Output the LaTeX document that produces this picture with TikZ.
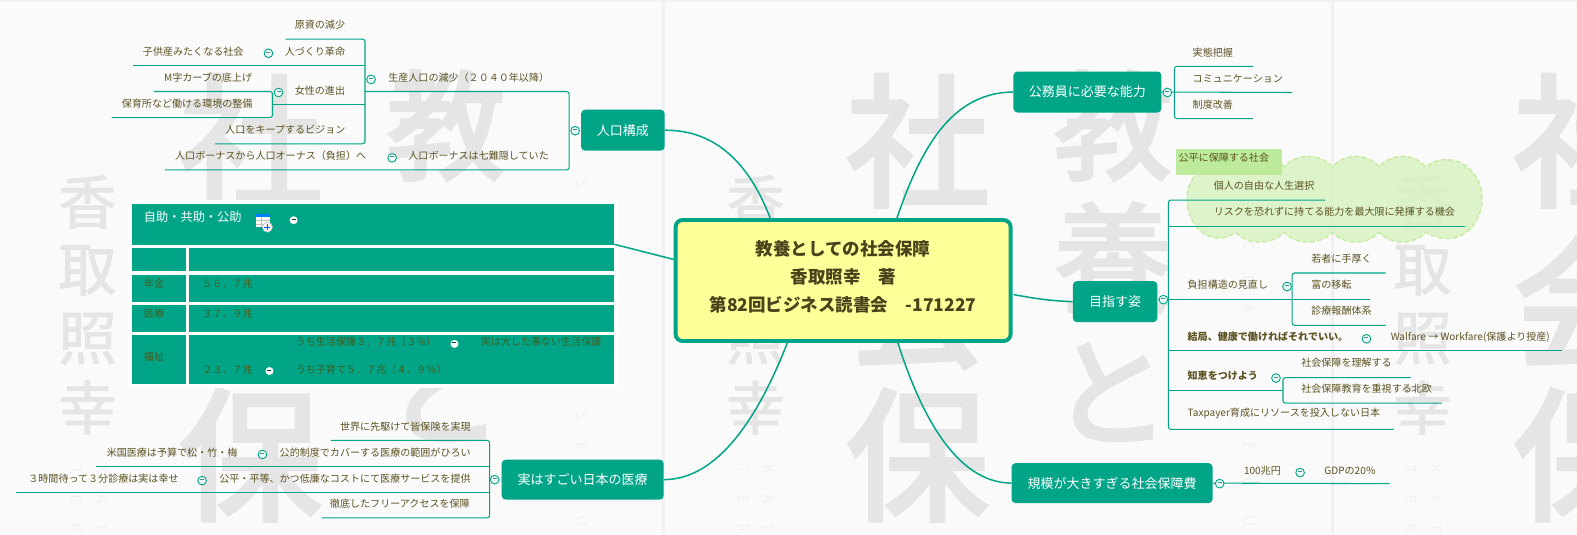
\documentclass[tikz,border=0pt]{standalone}
\usepackage{fontspec}
\setmainfont{Noto Sans CJK JP}
\newfontfamily\wmf{Noto Sans CJK JP Medium}
\newfontfamily\wmg[FakeBold=1.2]{Noto Sans CJK JP Medium}
\usetikzlibrary{calc}
\definecolor{teal}{HTML}{00A587}
\definecolor{ink}{HTML}{5C5222}
\definecolor{rowink}{HTML}{3F5E22}
\definecolor{wm}{HTML}{E5E5E5}
\definecolor{wmlt}{HTML}{F2F2F2}
\definecolor{pagebg}{HTML}{FAFAFA}
\definecolor{mainfill}{HTML}{FFFF99}
\definecolor{cloudfill}{HTML}{D8F2C2}
\definecolor{clouddraw}{HTML}{C3EB9B}
\definecolor{framefill}{HTML}{BDEB9B}
\newcommand{\fz}[1]{\fontsize{#1}{#1}\selectfont}
\tikzset{
  x=1.0055pt,y=-1.0055pt,
  lbl/.style={anchor=west,inner sep=0pt,text=ink,font=\fz{10.05}},
  rowt/.style={anchor=west,inner sep=0pt,text=rowink,font=\fz{10.05}},
  br/.style={draw=teal,line width=1.05pt,rounded corners=2.5pt},
  topic/.style={draw=none,fill=teal,rounded corners=4pt,text=white,font=\fz{13},inner sep=0pt,anchor=center},
  main/.style={draw=teal,line width=3.9pt,fill=mainfill,rounded corners=7pt,inner sep=0pt,anchor=center},
  link/.style={draw=teal,line width=1.5pt},
  col/.style={circle,draw=teal,line width=0.9pt,fill=white!92!teal,minimum size=8.7pt,inner sep=0pt,text=teal!50!gray},
  wcol/.style={circle,fill=white,minimum size=8pt,inner sep=0pt,text=teal!40!black},
  cell/.style={fill=teal,draw=none},
  wmk/.style={text=wm,inner sep=0pt,anchor=center,font=\wmf\fz{#1}},
  wmb/.style={text=wm,inner sep=0pt,anchor=center,font=\wmg\fz{#1}},
  wml/.style={text=wmlt,inner sep=0pt,anchor=center,rotate=-90,font=\fz{15}},
}
\newcommand{\mn}{\rule[2.2pt]{4pt}{0.8pt}}
\newcommand{\wmset}[1]{%
  \begin{scope}[shift={(#1,0)}]
    \node[wmb=145] at (249,140) {社};
    \node[wmb=145] at (249,301) {会};
    \node[wmb=145] at (249,452.5) {保};
    \node[wmb=120] at (443.5,125) {教};
    \node[wmb=120] at (443.5,256.5) {養};
    \node[wmb=120] at (441.5,390) {と};
    \node[wmk=59] at (88,201) {香};
    \node[wmk=59] at (88,269.5) {取};
    \node[wmk=59] at (88,338) {照};
    \node[wmk=59] at (88,406) {幸};
    \node[wml] at (101,467) {K};
    \node[wml] at (101,496) {A};
    \node[wml] at (101,525) {T};
    \node[wml] at (76.5,467) {T};
    \node[wml] at (76.5,496) {E};
    \node[wml] at (76.5,525) {R};
    \node[wml] at (579,183) {S};
    \node[wml] at (579,214) {O};
    \node[wml] at (579,245) {C};
    \node[wml] at (579,276) {I};
    \node[wml] at (579,307) {A};
    \node[wml] at (579,338) {L};
    \node[wml] at (579,414) {S};
    \node[wml] at (579,444) {E};
    \node[wml] at (579,480) {C};
    \node[wml] at (579,518) {U};
  \end{scope}}
\begin{document}
\begin{tikzpicture}
\useasboundingbox (0,0) rectangle (1568.4,531.1);
\fill[pagebg] (0,0) rectangle (1568.4,531.1);
\fill[white!95!black] (0,0) rectangle (1568.4,1.5);
\begin{scope}
\clip (0,0) rectangle (1568.4,531.1);
\wmset{0}\wmset{663.4}\wmset{1327}
\end{scope}
\draw[white!94!black,line width=3pt] (660,0)--(660,531.1) (1325,0)--(1325,531.1);

% table
\fill[white] (127,199) rectangle (615,386);
\node[cell,minimum width=482.6pt,minimum height=41pt,inner sep=0pt] (row0) at (371,223) {};
\node[cell,minimum width=54.3pt,minimum height=23pt,inner sep=0pt] (c1a) at (158,258.5) {};
\node[cell,minimum width=425.3pt,minimum height=23pt,inner sep=0pt] (c1b) at (399.5,258.5) {};
\node[cell,minimum width=54.3pt,minimum height=27pt,inner sep=0pt] (c2a) at (158,286.5) {};
\node[cell,minimum width=425.3pt,minimum height=27pt,inner sep=0pt] (c2b) at (399.5,286.5) {};
\node[cell,minimum width=54.3pt,minimum height=27pt,inner sep=0pt] (c3a) at (158,316.5) {};
\node[cell,minimum width=425.3pt,minimum height=27pt,inner sep=0pt] (c3b) at (399.5,316.5) {};
\node[cell,minimum width=54.3pt,minimum height=49pt,inner sep=0pt] (c4a) at (158,357.5) {};
\node[cell,minimum width=425.3pt,minimum height=49pt,inner sep=0pt] (c4b) at (399.5,357.5) {};
\node[anchor=west,inner sep=0pt,text=white,font=\fz{12.2}] (tt) at (143,216) {自助・共助・公助};
% icon
\fill[white] (255,213) rectangle (269,226);
\fill[blue!50!cyan] (255,213) rectangle (269,216);
\draw[black!25,line width=0.4pt] (255,219)--(269,219) (255,222.5)--(269,222.5) (260,216)--(260,226);
\draw[black!30,fill=white,line width=0.5pt] (266,226) circle (5);
\draw[blue!70!cyan,line width=1pt] (263,226)--(269,226) (266,223)--(266,229);
\node[wcol] (tc) at (292,219) {\mn};
\node[rowt] (n1) at (143,282) {年金};
\node[rowt] (n2) at (143,312) {医療};
\node[rowt] (n3) at (143,355) {福祉};
\node[rowt] (v1) at (201,282) {５６．７兆};
\node[rowt] (v2) at (201,312) {３７．９兆};
\node[rowt] (v3) at (201,368) {２３．７兆};
\node[wcol] (c3x) at (268,369) {\mn};
\node[rowt] (v3b) at (294,368) {うち子育て５．７兆（４．９％）};
\node[rowt] (v4) at (294,340) {うち生活保護３．７兆（３％）};
\node[wcol] (c4x) at (452,342) {\mn};
\node[rowt] (v5) at (478,340) {実は大した事ない生活保護};

% central
\node[main,minimum width=335pt,minimum height=121pt] (center) at (838.5,279) {};
\node[align=center,inner sep=0pt,font=\fz{17.5}\bfseries,text=ink!80!black] (centertext) at (838.5,275.5)
 {教養としての社会保障\\[10.8pt]香取照幸　著\\[10.8pt]第82回ビジネス読書会　-171227};

% topics
\node[topic,minimum width=83.5pt,minimum height=41pt] (t1) at (619.5,129.5) {人口構成};
\node[topic,minimum width=162pt,minimum height=40pt] (t2) at (579.5,477) {実はすごい日本の医療};
\node[topic,minimum width=148pt,minimum height=41pt] (t3) at (1081.5,91.5) {公務員に必要な能力};
\node[topic,minimum width=84.5pt,minimum height=41pt] (t4) at (1109,300) {目指す姿};
\node[topic,minimum width=201pt,minimum height=40pt] (t5) at (1106,480.5) {規模が大きすぎる社会保障費};

\coordinate (ca) at (766,217);
\coordinate (cb) at (783,341);
\coordinate (cc) at (892,217);
\coordinate (cd) at (893,341);
\coordinate (ce) at (1008,293);
\coordinate (cf) at (670,258);
\coordinate (tb) at (611,243);
\path[link] (t1.east) .. controls (720,129) and (750,175) .. (ca);
\path[link] (t2.east) .. controls (720,477) and (760,400) .. (cb);
\path[link] (t3.west) .. controls (945,92) and (915,150) .. (cc);
\path[link] (t5.west) .. controls (950,480) and (915,410) .. (cd);
\path[link] (t4.west) .. controls (1040,299) and (1025,296) .. (ce);
\path[link] (tb) -- (cf);

% ---- 人口構成 branch
\node[lbl] (a1) at (293,25) {原資の減少};
\node[lbl] (a2) at (283,51) {人づくり革命};
\node[lbl] (a3) at (142,51) {子供産みたくなる社会};
\node[lbl] (a4) at (293,90) {女性の進出};
\node[lbl] (a5) at (163,77) {M字カーブの底上げ};
\node[lbl] (a6) at (121,103) {保育所など働ける環境の整備};
\node[lbl] (a7) at (224,129) {人口をキープするビジョン};
\node[lbl] (a8) at (386,77) {生産人口の減少（２０４０年以降）};
\node[lbl] (a9) at (406,155) {人口ボーナスは七難隠していた};
\node[lbl] (a10) at (174,155) {人口ボーナスから人口オーナス（負担）へ};
\coordinate (a1l) at (284,39);
\coordinate (a2l) at (132,65);
\coordinate (a4l) at (271,104);
\coordinate (a5l) at (153,91);
\coordinate (a6l) at (111,117);
\coordinate (a7l) at (214,143);
\coordinate (a8r) at (363,91);
\coordinate (a9l) at (164,169);
\path[br] (a1l) -- (363,39) -- (363,143) -- (a7l);
\path[br] (a2l) -- (363,65);
\path[br] (a4l) -- (363,104);
\path[br] (a5l) -- (271,91) -- (271,117) -- (a6l);
\path[br] (a8r) -- (566,91) -- (566,169) -- (a9l);
\node[col] (ac1) at (267,53) {\mn};
\node[col] (ac2) at (277,92) {\mn};
\node[col] (ac3) at (369,79) {\mn};
\node[col] (ac4) at (390,157) {\mn};
\node[col] (ac5) at (572,130) {\mn};

% ---- 医療 branch
\node[lbl] (b1) at (338,424) {世界に先駆けて皆保険を実現};
\node[lbl] (b2) at (278,450) {公的制度でカバーする医療の範囲がひろい};
\node[lbl] (b3) at (106,450) {米国医療は予算で松・竹・梅};
\node[lbl] (b4) at (218,476) {公平・平等、かつ低廉なコストにて医療サービスを提供};
\node[lbl] (b5) at (28,476) {３時間待って３分診療は実は幸せ};
\node[lbl] (b6) at (328,501) {徹底したフリーアクセスを保障};
\coordinate (b1l) at (329,438);
\coordinate (b2l) at (95,464);
\coordinate (b4l) at (16,490);
\coordinate (b6l) at (320,515);
\path[br] (b1l) -- (487,438) -- (487,515) -- (b6l);
\path[br] (b2l) -- (487,464);
\path[br] (b4l) -- (487,490);
\node[col] (bc1) at (261,452) {\mn};
\node[col] (bc2) at (201,478) {\mn};
\node[col] (bc3) at (492,477) {\mn};

% ---- 公務員 branch
\node[lbl] (d1) at (1186,52) {実態把握};
\node[lbl] (d2) at (1186,78) {コミュニケーション};
\node[lbl] (d3) at (1186,104) {制度改善};
\coordinate (d1r) at (1246,66);
\coordinate (d2r) at (1285,92);
\coordinate (d3r) at (1246,118);
\path[br] (d1r) -- (1168,66) -- (1168,118) -- (d3r);
\path[br] (t3.east) -- (d2r);
\node[col] (dc) at (1161,92) {\mn};

% ---- cloud
\path[draw=clouddraw,fill=cloudfill,fill opacity=0.85,line width=1.3pt,dash pattern=on 5pt off 2.5pt]
 (1190,172) .. controls (1198,158) and (1216,153) .. (1229,166)
 .. controls (1241,152) and (1265,152) .. (1277,166)
 .. controls (1289,152) and (1313,152) .. (1325,166)
 .. controls (1337,152) and (1360,152) .. (1371.5,166)
 .. controls (1384,152) and (1406,152) .. (1418,166)
 .. controls (1440,148) and (1474,165) .. (1474,198)
 .. controls (1474,222) and (1452,250) .. (1418,231)
 .. controls (1406,244) and (1384,244) .. (1371.5,231)
 .. controls (1360,244) and (1337,244) .. (1325,231)
 .. controls (1313,244) and (1289,244) .. (1277,231)
 .. controls (1265,244) and (1241,244) .. (1229,231)
 .. controls (1205,248) and (1180,225) .. (1180.5,198)
 .. controls (1180.5,188) and (1184,180) .. (1190,172) -- cycle;
\node[fill=framefill,minimum width=105.5pt,minimum height=26pt,inner sep=0pt] (fr) at (1222.5,161) {};
\node[lbl] (e0) at (1172,157) {公平に保障する社会};

% ---- 目指す姿 branch
\node[lbl] (e1) at (1207,185) {個人の自由な人生選択};
\node[lbl] (e2) at (1207,211) {リスクを恐れずに持てる能力を最大限に発揮する機会};
\node[lbl] (e3) at (1181,283) {負担構造の見直し};
\node[lbl] (e4) at (1304,257) {若者に手厚く};
\node[lbl] (e5) at (1304,283) {富の移転};
\node[lbl] (e6) at (1304,309) {診療報酬体系};
\node[lbl,font=\fz{10.05}\bfseries] (e7) at (1181,335) {結局、健康で働ければそれでいい。};
\node[lbl] (e8) at (1383,335) {Walfare → Workfare(保護より授産)};
\node[lbl,font=\fz{10.05}\bfseries] (e9) at (1181,374) {知恵をつけよう};
\node[lbl] (e10) at (1294,361) {社会保障を理解する};
\node[lbl] (e11) at (1294,387) {社会保障教育を重視する北欧};
\node[lbl] (e12) at (1181,411) {Taxpayer育成にリソースを投入しない日本};
\coordinate (e1r) at (1318,199);
\coordinate (e2r) at (1457,225);
\coordinate (e3r) at (1363,297.5);
\coordinate (e4r) at (1378,271.5);
\coordinate (e6r) at (1378,323.5);
\coordinate (e7r) at (1553,349);
\coordinate (e9r) at (1276,388);
\coordinate (e10r) at (1403,375.5);
\coordinate (e11r) at (1434,401);
\coordinate (e12r) at (1386,427);
\path[br] (e1r) -- (1162,199) -- (1162,427) -- (e12r);
\path[br] (1162,225) -- (e2r);
\path[br] (t4.east) ++(0,-2.5) -- (e3r);
\path[br] (1162,349) -- (e7r);
\path[br] (1162,388) -- (e9r);
\path[br] (e4r) -- (1285,271.5) -- (1285,323.5) -- (e6r);
\path[br] (e10r) -- (1276,375.5) -- (1276,401) -- (e11r);
\node[col] (ec1) at (1157,298) {\mn};
\node[col] (ec2) at (1280,285) {\mn};
\node[col] (ec3) at (1359,337) {\mn};
\node[col] (ec4) at (1269,376) {\mn};

% ---- 規模 branch
\node[lbl] (f1) at (1237,468) {100兆円};
\node[lbl] (f2) at (1317,468) {GDPの20％};
\coordinate (f1r) at (1382,481);
\path[br] (t5.east) -- (f1r);
\node[col] (fc1) at (1213,481) {\mn};
\node[col] (fc2) at (1293,470) {\mn};
\end{tikzpicture}
\end{document}
